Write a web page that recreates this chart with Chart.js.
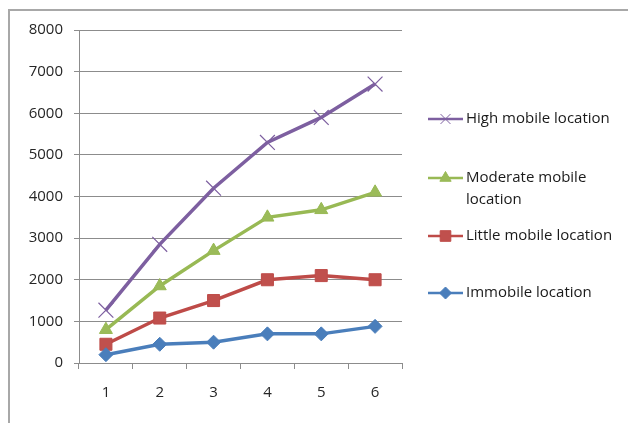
<!DOCTYPE html>
<html>
<head>
<meta charset="utf-8">
<script src="https://cdn.jsdelivr.net/npm/chart.js@4/dist/chart.umd.min.js"></script>
<style>
  html, body { margin: 0; padding: 0; background: #fff; }
  #wrap { position: relative; width: 628px; height: 423px; overflow: hidden; }
  #frame { position: absolute; left: 8px; top: 9px; width: 700px; height: 500px;
           border-top: 2px solid #a8a8a8; border-left: 2px solid #a8a8a8; pointer-events: none; }
  canvas { position: absolute; left: 0; top: 0; }
</style>
</head>
<body>
<div id="wrap">
  <canvas id="c" width="628" height="423"></canvas>
  <div id="frame"></div>
</div>
<script>
// Categories along the horizontal axis
const categories = ['1', '2', '3', '4', '5', '6'];

// Series values
const immobile = [200, 450, 500, 700, 700, 880];
const littleMobile = [450, 1080, 1500, 2000, 2100, 2000];
const moderateMobile = [800, 1850, 2700, 3500, 3680, 4100];
const highMobile = [1270, 2850, 4200, 5300, 5900, 6700];

// Series names (legend lines; a nested array wraps onto two lines)
const seriesNames = [
  'Immobile location',
  'Little mobile location',
  ['Moderate mobile', 'location'],
  'High mobile location'
];

const FONT = '"Open Sans", "DejaVu Sans", sans-serif';

const datasets = [
  { label: seriesNames[0], data: immobile, borderColor: '#4a7ebb', backgroundColor: '#4a7ebb',
    pointStyle: 'rectRot', pointRadius: 7, pointBorderWidth: 1 },
  { label: seriesNames[1], data: littleMobile, borderColor: '#be4b48', backgroundColor: '#c0504d',
    pointStyle: 'rect', pointRadius: 8.5, pointBorderWidth: 1 },
  { label: seriesNames[2], data: moderateMobile, borderColor: '#98b954', backgroundColor: '#9bbb59',
    pointStyle: 'triangle', pointRadius: 7.5, pointBorderWidth: 1 },
  { label: seriesNames[3], data: highMobile, borderColor: '#7d5fa0', backgroundColor: '#7d5fa0',
    pointStyle: 'crossRot', pointRadius: 10.5, pointBorderWidth: 1.2 }
].map(d => Object.assign({ borderWidth: 3.5, tension: 0, fill: false }, d));

// Legend drawn to the right of the plot, top entry first
const legendRows = [
  { ds: 3, y: 119 },
  { ds: 2, y: 178 },
  { ds: 1, y: 236 },
  { ds: 0, y: 293 }
];

const sideLegend = {
  id: 'sideLegend',
  afterDraw(chart) {
    const ctx = chart.ctx;
    const x0 = chart.chartArea.right + 26;
    const lineLen = 35;
    ctx.save();
    legendRows.forEach(row => {
      const ds = chart.data.datasets[row.ds];
      ctx.strokeStyle = ds.borderColor;
      ctx.lineWidth = 2.5;
      ctx.beginPath();
      ctx.moveTo(x0, row.y);
      ctx.lineTo(x0 + lineLen, row.y);
      ctx.stroke();
      ctx.fillStyle = ds.backgroundColor;
      ctx.strokeStyle = ds.borderColor;
      ctx.lineWidth = 1;
      Chart.helpers.drawPoint(ctx, {
        pointStyle: ds.pointStyle,
        radius: ds.pointStyle === 'crossRot' ? 7 : ds.pointRadius - 1,
        borderWidth: 1
      }, x0 + lineLen / 2, row.y);
      ctx.fillStyle = '#1a1a1a';
      ctx.font = '15px ' + FONT;
      ctx.textBaseline = 'middle';
      ctx.textAlign = 'left';
      const lines = Array.isArray(ds.label) ? ds.label : [ds.label];
      lines.forEach((t, i) => ctx.fillText(t, x0 + lineLen + 3, row.y + i * 22));
    });
    ctx.restore();
  }
};

new Chart(document.getElementById('c'), {
  type: 'line',
  data: { labels: categories, datasets },
  plugins: [sideLegend],
  options: {
    responsive: false,
    animation: false,
    layout: { padding: { top: 30, right: 226, left: 0, bottom: 0 } },
    plugins: { legend: { display: false }, tooltip: { enabled: false } },
    scales: {
      x: {
        offset: true,
        grid: { offset: true, drawOnChartArea: false, drawTicks: true, tickLength: 6, color: '#8c8c8c' },
        border: { color: '#8c8c8c', width: 1 },
        ticks: { color: '#262626', font: { family: FONT, size: 15 }, padding: 15, maxRotation: 0 },
        afterFit(scale) { scale.height = 60; }
      },
      y: {
        min: 0, max: 8000,
        ticks: { stepSize: 1000, color: '#262626', font: { family: FONT, size: 15 }, padding: 11,
                 callback: v => String(v) },
        grid: { color: '#8c8c8c', tickLength: 5, drawTicks: true },
        border: { color: '#8c8c8c', width: 1 },
        afterFit(scale) { scale.width = 79; }
      }
    }
  }
});
</script>
</body>
</html>
